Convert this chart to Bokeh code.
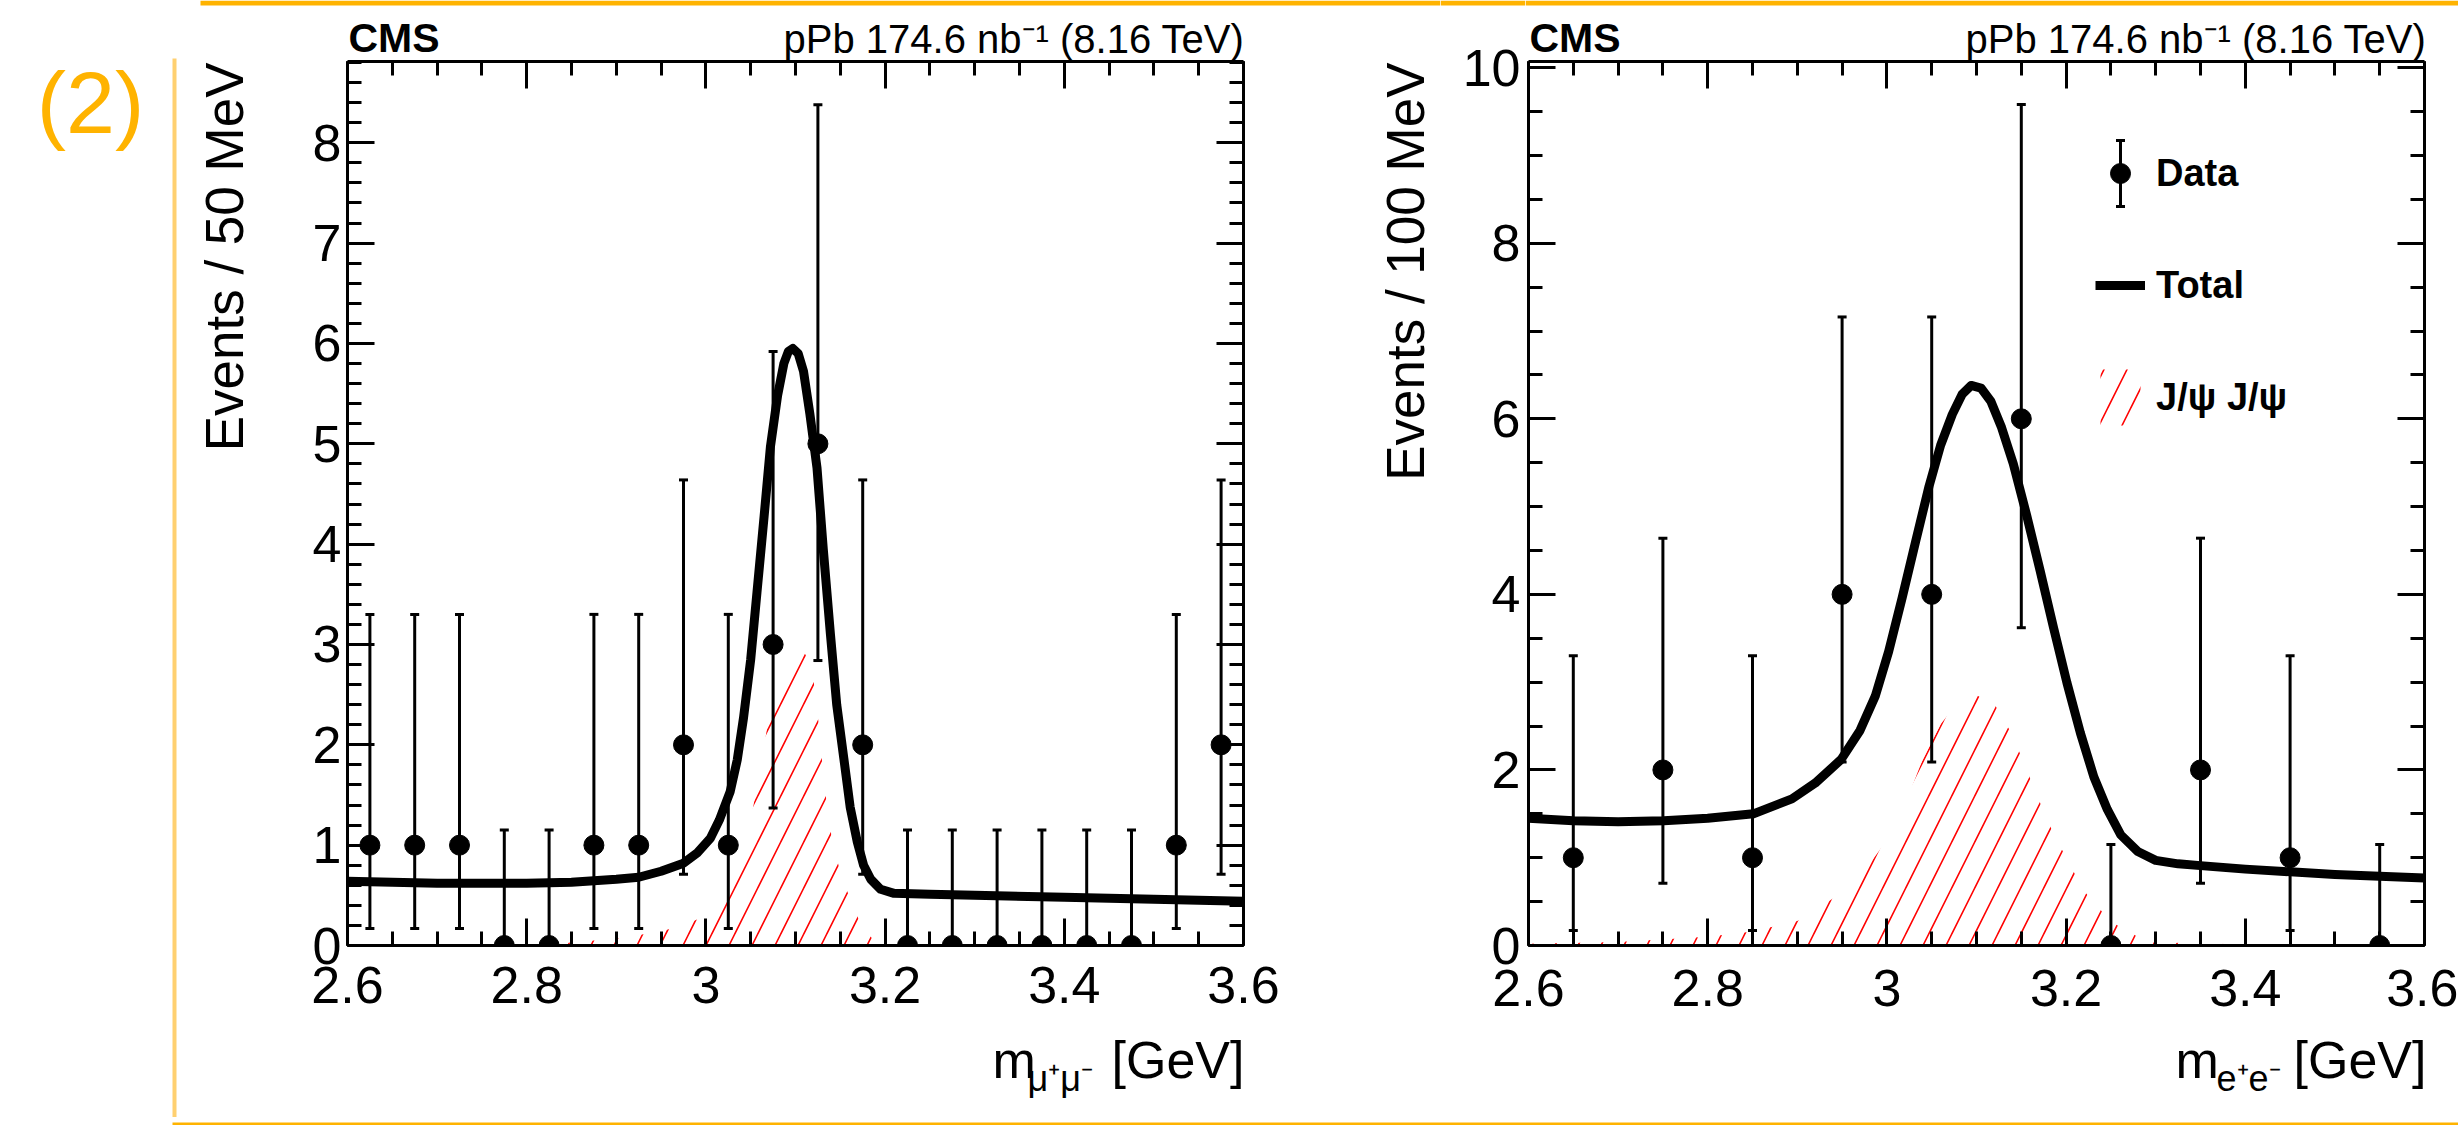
from bokeh.plotting import figure
from bokeh.models import (Range1d, LinearAxis, SingleIntervalTicker, CustomJSTickFormatter,
                          ColumnDataSource, Whisker, TeeHead, Label, Legend, LegendItem,
                          BoxAnnotation)
from bokeh.layouts import row, column
from bokeh.embed import file_html
from bokeh.resources import INLINE

# ---------------- data: mu+mu- channel (50 MeV bins) ----------------
mm_mass = [2.625, 2.675, 2.725, 2.775, 2.825, 2.875, 2.925, 2.975, 3.025, 3.075,
           3.125, 3.175, 3.225, 3.275, 3.325, 3.375, 3.425, 3.475, 3.525, 3.575]
mm_counts = [1, 1, 1, 0, 0, 1, 1, 2, 1, 3, 5, 2, 0, 0, 0, 0, 0, 0, 1, 2]
mm_err_lo = [0.17, 0.17, 0.17, 0.0, 0.0, 0.17, 0.17, 0.71, 0.17, 1.37,
             2.84, 0.71, 0.0, 0.0, 0.0, 0.0, 0.0, 0.0, 0.17, 0.71]
mm_err_hi = [3.30, 3.30, 3.30, 1.15, 1.15, 3.30, 3.30, 4.64, 3.30, 5.92,
             8.38, 4.64, 1.15, 1.15, 1.15, 1.15, 1.15, 1.15, 3.30, 4.64]

mm_total_x = [2.600, 2.650, 2.700, 2.750, 2.800, 2.850, 2.900, 2.925, 2.950, 2.975, 2.990,
              3.005, 3.015, 3.027, 3.035, 3.042, 3.050, 3.057, 3.065, 3.072, 3.080, 3.087,
              3.092, 3.097, 3.103, 3.109, 3.116, 3.124, 3.131, 3.139, 3.146, 3.154, 3.161,
              3.169, 3.176, 3.184, 3.195, 3.210, 3.250, 3.300, 3.400, 3.500, 3.600]
mm_total_y = [0.64, 0.63, 0.62, 0.62, 0.62, 0.63, 0.66, 0.68, 0.74, 0.82, 0.92,
              1.07, 1.25, 1.53, 1.85, 2.27, 2.85, 3.52, 4.28, 4.97, 5.48, 5.80,
              5.92, 5.95, 5.90, 5.72, 5.30, 4.76, 3.95, 3.10, 2.40, 1.86, 1.38,
              1.03, 0.80, 0.66, 0.56, 0.52, 0.51, 0.50, 0.48, 0.46, 0.44]

mm_sig_x = [2.80, 2.85, 2.90, 2.95, 2.98, 3.00, 3.015, 3.027, 3.040, 3.050, 3.060, 3.068,
            3.076, 3.083, 3.092, 3.100, 3.108, 3.114, 3.120, 3.126, 3.132, 3.140, 3.148,
            3.156, 3.166, 3.176, 3.188, 3.200]
mm_sig_y = [0.00, 0.03, 0.07, 0.14, 0.22, 0.30, 0.42, 0.58, 0.90, 1.25, 1.72, 2.15,
            2.50, 2.78, 2.95, 3.00, 2.95, 2.85, 2.65, 2.20, 1.60, 1.10, 0.80,
            0.58, 0.35, 0.16, 0.05, 0.00]

# ---------------- data: e+e- channel (100 MeV bins) ----------------
ee_mass = [2.65, 2.75, 2.85, 2.95, 3.05, 3.15, 3.25, 3.35, 3.45, 3.55]
ee_counts = [1, 2, 1, 4, 4, 6, 0, 2, 1, 0]
ee_err_lo = [0.17, 0.71, 0.17, 2.09, 2.09, 3.62, 0.0, 0.71, 0.17, 0.0]
ee_err_hi = [3.30, 4.64, 3.30, 7.16, 7.16, 9.58, 1.15, 4.64, 3.30, 1.15]

ee_total_x = [2.600, 2.650, 2.700, 2.751, 2.800, 2.851, 2.894, 2.920, 2.949, 2.970, 2.987,
              3.002, 3.017, 3.032, 3.047, 3.060, 3.073, 3.084, 3.094, 3.105, 3.116, 3.128,
              3.141, 3.156, 3.171, 3.186, 3.201, 3.216, 3.231, 3.246, 3.261, 3.280, 3.300,
              3.325, 3.350, 3.400, 3.450, 3.500, 3.550, 3.600]
ee_total_y = [1.45, 1.42, 1.41, 1.42, 1.45, 1.50, 1.67, 1.85, 2.12, 2.45, 2.84,
              3.35, 3.96, 4.60, 5.23, 5.70, 6.05, 6.28, 6.38, 6.35, 6.20, 5.90,
              5.49, 4.90, 4.27, 3.62, 2.99, 2.42, 1.92, 1.55, 1.26, 1.07, 0.97,
              0.93, 0.91, 0.87, 0.84, 0.81, 0.79, 0.77]

ee_sig_x = [2.60, 2.70, 2.80, 2.85, 2.90, 2.95, 2.98, 3.00, 3.02, 3.04, 3.06, 3.08, 3.10,
            3.12, 3.14, 3.16, 3.18, 3.20, 3.22, 3.25, 3.28, 3.32, 3.40, 3.60]
ee_sig_y = [0.02, 0.04, 0.10, 0.16, 0.28, 0.60, 0.92, 1.20, 1.60, 2.12, 2.52, 2.78, 2.85,
            2.75, 2.40, 1.90, 1.40, 1.00, 0.62, 0.27, 0.10, 0.03, 0.01, 0.00]

x_tick_values = [2.6, 2.8, 3.0, 3.2, 3.4, 3.6]
x_tick_labels = ["2.6", "2.8", "3", "3.2", "3.4", "3.6"]

# ---------------- layout constants (page pixels) ----------------
W, H = 2458, 1125
ORANGE = "#FFB300"
FONT = "Liberation Sans"
Y_HEAD, Y_PANEL_BOT, Y_BOT = 60, 1030, 1117   # row boundaries
FRAME_TOP, FRAME_BOT = 61, 945
DECOR_W = 180
MID = 0.3465    # em offset between alphabetic baseline and text middle
RULE_H = 5      # thickness of the orange top rule
Y_GAP_TOP = 36  # bottom of the small rule piece above the right y tick labels
Y_SPLIT = 966   # split between the right panel and its x tick-label strip


def aux(x0, x1, y0, y1):
    """Axis-less figure whose data coordinates are page pixels."""
    s = figure(width=x1 - x0, height=y1 - y0, x_range=Range1d(x0, x1), y_range=Range1d(y1, y0),
               output_backend="svg", toolbar_location=None, min_border=0, title=None,
               x_axis_location=None, y_axis_location=None, frame_align=False)
    s.outline_line_color = None
    s.grid.visible = False
    s.background_fill_color = "white"
    s.border_fill_color = "white"
    return s


def put(p, text, x, base, size, align="left", bold=False, angle=0.0, color="black"):
    """Place text so that its alphabetic baseline is at `base` (or x for rotated)."""
    if angle:
        x = x - MID * size
        y = base
    else:
        y = base - MID * size
    p.add_layout(Label(x=x, y=y, text=text, text_font=FONT, text_font_size=f"{size}px",
                       text_align=align, text_baseline="middle",
                       text_font_style="bold" if bold else "normal",
                       angle=angle, text_color=color))


def style_axis(ax):
    ax.axis_line_width = 3
    ax.axis_line_color = "black"
    ax.major_tick_in = 27
    ax.major_tick_out = 0
    ax.minor_tick_in = 14
    ax.minor_tick_out = 0
    ax.major_tick_line_width = 3
    ax.minor_tick_line_width = 3
    ax.major_tick_line_color = "black"
    ax.minor_tick_line_color = "black"
    ax.major_label_text_font = FONT
    ax.major_label_text_font_size = "52px"
    ax.major_label_text_color = "black"


def label_only(ax, standoff):
    """Axis that shows only its tick labels."""
    style_axis(ax)
    ax.axis_line_color = None
    ax.major_tick_line_color = None
    ax.minor_tick_line_color = None
    ax.major_tick_in = 0
    ax.minor_tick_in = 0
    ax.major_label_standoff = standoff


def x_formatter():
    return CustomJSTickFormatter(args=dict(tv=x_tick_values, tl=x_tick_labels), code="""
        for (let i = 0; i < tv.length; i++) { if (Math.abs(tv[i] - tick) < 1e-6) return tl[i]; }
        return "";
    """)


def make_panel(x0, x1, y0, y1, fl, fr, ymax, y_int, y_minor, mass, counts, lo, hi,
               tot_x, tot_y, sig_x, sig_y, left_labels=True, bottom_labels=True):
    p = figure(width=x1 - x0, height=y1 - y0, x_range=Range1d(2.6, 3.6),
               y_range=Range1d(0, ymax), output_backend="svg", toolbar_location=None,
               title=None, x_axis_location=None, y_axis_location=None, frame_align=False)
    p.min_border_left = fl - x0
    p.min_border_right = x1 - fr
    p.min_border_top = FRAME_TOP - y0
    p.min_border_bottom = y1 - FRAME_BOT
    p.outline_line_color = None
    p.grid.visible = False
    p.background_fill_color = "white"
    p.border_fill_color = "white"

    xt = SingleIntervalTicker(interval=0.2, num_minor_ticks=4)
    yt = SingleIntervalTicker(interval=y_int, num_minor_ticks=y_minor)
    blank = CustomJSTickFormatter(code="return '';")

    bottom = LinearAxis(ticker=xt, formatter=x_formatter() if bottom_labels else blank)
    left = LinearAxis(ticker=yt) if left_labels else LinearAxis(ticker=yt, formatter=blank)
    top = LinearAxis(ticker=xt, formatter=blank)
    right = LinearAxis(ticker=yt, formatter=blank)
    p.add_layout(bottom, "below")
    p.add_layout(left, "left")
    p.add_layout(top, "above")
    p.add_layout(right, "right")
    for ax in [bottom, left, top, right]:
        style_axis(ax)
    bottom.major_label_standoff = 21
    left.major_label_standoff = 6
    hidden = [top, right]
    if not left_labels:
        hidden.append(left)
    if not bottom_labels:
        hidden.append(bottom)
    for ax in hidden:
        ax.major_label_text_font_size = "1px"
        ax.major_label_standoff = 0

    hatch = p.varea(x=sig_x, y1=0, y2=sig_y, fill_alpha=0, hatch_pattern="/",
                    hatch_color="red", hatch_weight=1.6, hatch_scale=46)
    tot = p.line(tot_x, tot_y, line_width=9, line_color="black", line_join="round")
    src = ColumnDataSource(dict(x=mass, y=counts, lo=lo, hi=hi))
    wh = Whisker(source=src, base="x", lower="lo", upper="hi", line_width=3, line_color="black",
                 upper_head=TeeHead(size=9, line_width=3, line_color="black"),
                 lower_head=TeeHead(size=9, line_width=3, line_color="black"))
    wh.level = "glyph"
    p.add_layout(wh)
    pts = p.scatter(x="x", y="y", source=src, size=20, color="black")
    return p, pts, tot, hatch


# x extents of the columns
YTA = (180, 262)
PA = (262, 1290)
YTB = (1290, 1440)
YAXB = (1440, 1525)
PB = (1525, 2458)
B_FL, B_FR, B_YMAX = 1528, 2424, 10.07

pA, _, _, _ = make_panel(PA[0], PA[1], Y_HEAD, Y_PANEL_BOT, 347, 1243, 8.81, 1, 5,
                         mm_mass, mm_counts, mm_err_lo, mm_err_hi,
                         mm_total_x, mm_total_y, mm_sig_x, mm_sig_y)
pB, ptsB, totB, hatchB = make_panel(PB[0], PB[1], Y_HEAD, Y_SPLIT, B_FL, B_FR, B_YMAX, 2, 4,
                                    ee_mass, ee_counts, ee_err_lo, ee_err_hi,
                                    ee_total_x, ee_total_y, ee_sig_x, ee_sig_y,
                                    left_labels=False, bottom_labels=False)

# y tick labels of the right panel (own column so that "10" is not cut)
yaxB = figure(width=YAXB[1] - YAXB[0], height=Y_SPLIT - Y_GAP_TOP, x_range=Range1d(0, 1),
              y_range=Range1d(0, B_YMAX), output_backend="svg", toolbar_location=None,
              title=None, x_axis_location=None, y_axis_location=None, frame_align=False)
yaxB.min_border_left = 80
yaxB.min_border_right = 0
yaxB.min_border_top = FRAME_TOP - Y_GAP_TOP
yaxB.min_border_bottom = Y_SPLIT - FRAME_BOT
yaxB.outline_line_color = None
yaxB.grid.visible = False
yaxB.border_fill_color = "white"
yaxB_axis = LinearAxis(ticker=SingleIntervalTicker(interval=2, num_minor_ticks=4))
label_only(yaxB_axis, 0)
yaxB.add_layout(yaxB_axis, "left")

# x tick labels of the right panel (own strip so that "2.6" is not cut)
xaxB = figure(width=W - YAXB[0], height=Y_PANEL_BOT - Y_SPLIT, x_range=Range1d(2.6, 3.6),
              y_range=Range1d(0, 1), output_backend="svg", toolbar_location=None,
              title=None, x_axis_location=None, y_axis_location=None, frame_align=False)
xaxB.min_border_left = B_FL - YAXB[0]
xaxB.min_border_right = W - B_FR
xaxB.min_border_top = 0
xaxB.min_border_bottom = Y_PANEL_BOT - Y_SPLIT - 3
xaxB.outline_line_color = None
xaxB.grid.visible = False
xaxB.border_fill_color = "white"
xaxB_axis = LinearAxis(ticker=SingleIntervalTicker(interval=0.2, num_minor_ticks=4),
                       formatter=x_formatter())
label_only(xaxB_axis, 0)
xaxB.add_layout(xaxB_axis, "below")

# small piece of the orange top rule above the right y tick labels
gapTop = aux(YAXB[0], YAXB[1], 0, Y_GAP_TOP)
gapTop.add_layout(BoxAnnotation(left=YAXB[0], right=YAXB[1], top=0, bottom=RULE_H,
                                fill_color=ORANGE, fill_alpha=1, line_color=None))

# legend (frame-relative pixel placement)
LEG_X, LEG_Y, GLYPH_W, GLYPH_H, LEG_SP = 567, 513, 50, 70, 42
legend = Legend(items=[LegendItem(label="Data", renderers=[ptsB]),
                       LegendItem(label="Total", renderers=[totB]),
                       LegendItem(label="J/\u03c8 J/\u03c8", renderers=[hatchB])],
                location=(LEG_X, LEG_Y), border_line_color=None, background_fill_alpha=0,
                glyph_width=GLYPH_W, glyph_height=GLYPH_H, spacing=LEG_SP, padding=0, margin=0,
                label_standoff=11, label_text_font=FONT, label_text_font_style="bold",
                label_text_font_size="38px", label_text_color="black")
pB.add_layout(legend)

# error bar drawn on the "Data" legend entry, derived from the legend geometry
frame_w = B_FR - B_FL
frame_h = FRAME_BOT - FRAME_TOP
leg_top_px = LEG_Y + 3 * GLYPH_H + 2 * LEG_SP          # from frame bottom
data_cy_px = leg_top_px - GLYPH_H / 2
leg_src = ColumnDataSource(dict(
    x=[2.6 + (LEG_X + GLYPH_W / 2) / frame_w * 1.0],
    lo=[(data_cy_px - 33) / frame_h * B_YMAX],
    hi=[(data_cy_px + 33) / frame_h * B_YMAX]))
leg_wh = Whisker(source=leg_src, base="x", lower="lo", upper="hi", line_width=3,
                 line_color="black",
                 upper_head=TeeHead(size=9, line_width=3, line_color="black"),
                 lower_head=TeeHead(size=9, line_width=3, line_color="black"))
leg_wh.level = "glyph"
pB.add_layout(leg_wh)

# y-axis titles (rotated; baseline given as x)
ytA = aux(YTA[0], YTA[1], Y_HEAD, Y_PANEL_BOT)
put(ytA, "Events / 50 MeV", 242, 62, 53, align="right", angle=1.5707963)
ytB = aux(YTB[0], YTB[1], Y_HEAD, Y_PANEL_BOT)
put(ytB, "Events / 100 MeV", 1423, 62, 53, align="right", angle=1.5707963)

# header rows (with the orange top rule of the slide)
headA = aux(DECOR_W, YAXB[0], 0, Y_HEAD)
headA.add_layout(BoxAnnotation(left=200, right=YAXB[0], top=0, bottom=RULE_H, fill_color=ORANGE,
                               fill_alpha=1, line_color=None))
put(headA, "CMS", 348, 52, 41, bold=True)
put(headA, "pPb 174.6 nb\u207b\u00b9 (8.16 TeV)", 1244, 52, 40, align="right")
headB = aux(PB[0], W, 0, Y_HEAD)
headB.add_layout(BoxAnnotation(left=PB[0], right=W, top=0, bottom=RULE_H, fill_color=ORANGE,
                               fill_alpha=1, line_color=None))
put(headB, "CMS", 1529, 52, 41, bold=True)
put(headB, "pPb 174.6 nb\u207b\u00b9 (8.16 TeV)", 2426, 52, 40, align="right")

# x-axis titles row
xt_row = aux(DECOR_W, W, Y_PANEL_BOT, Y_BOT)
put(xt_row, "m", 992, 1078, 52)
put(xt_row, "\u03bc\u207a\u03bc\u207b", 1027, 1090, 36)
put(xt_row, "[GeV]", 1244, 1078, 52, align="right")
put(xt_row, "m", 2175, 1078, 52)
put(xt_row, "e\u207ae\u207b", 2216, 1090, 36)
put(xt_row, "[GeV]", 2426, 1078, 52, align="right")

# slide decoration
bot_strip = aux(0, W, Y_BOT, H)
bot_strip.add_layout(BoxAnnotation(left=172, right=W, top=1118, bottom=H, fill_color=ORANGE,
                                   fill_alpha=1, line_color=None))
decor = aux(0, DECOR_W, 0, Y_BOT)
decor.add_layout(BoxAnnotation(left=172, right=176, top=58, bottom=Y_BOT, fill_color="#FFD070",
                               fill_alpha=1, line_color=None))
put(decor, "(2)", 90, 132, 88, align="center", color=ORANGE)

sideA = column(headA, row(ytA, pA, ytB))
blockB = column(row(column(gapTop, yaxB), column(headB, pB)), xaxB)
upper = row(sideA, blockB)
right_part = column(upper, xt_row)
layout = column(row(decor, right_part), bot_strip)
open("out.html", "w").write(file_html(layout, INLINE))
